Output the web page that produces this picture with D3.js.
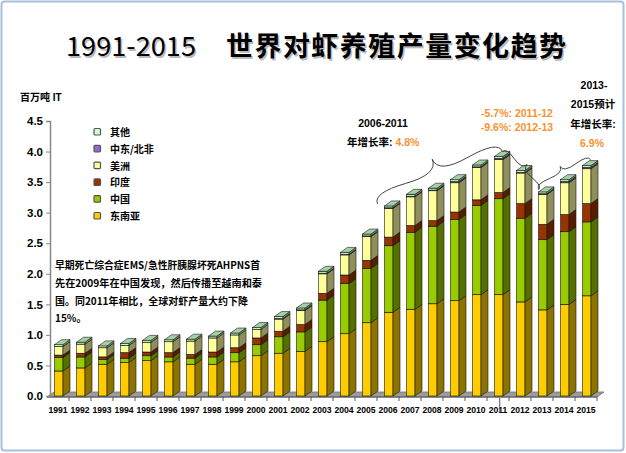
<!DOCTYPE html>
<html><head><meta charset="utf-8">
<script src="https://cdn.jsdelivr.net/npm/d3@7"></script>
<style>
body{margin:0;background:#fff}
svg{display:block}
text{font-family:"Liberation Sans","Noto Sans CJK SC",Arial,sans-serif;font-weight:bold}
</style>
</head><body>
<svg id="c" width="626" height="453"></svg>
<script>
// ---------- data ----------
const years = ["1991","1992","1993","1994","1995","1996","1997","1998","1999","2000","2001","2002","2003","2004","2005","2006","2007","2008","2009","2010","2011","2012","2013","2014","2015"];
const southeastAsia = [0.41,0.46,0.52,0.55,0.58,0.56,0.52,0.52,0.56,0.66,0.70,0.73,0.89,1.02,1.20,1.37,1.42,1.51,1.56,1.66,1.66,1.54,1.41,1.50,1.64];
const china         = [0.22,0.18,0.08,0.07,0.08,0.08,0.10,0.12,0.15,0.18,0.27,0.32,0.68,0.82,0.89,1.09,1.26,1.27,1.33,1.46,1.57,1.37,1.15,1.19,1.21];
const india         = [0.04,0.06,0.04,0.09,0.06,0.07,0.06,0.08,0.08,0.11,0.09,0.12,0.11,0.14,0.13,0.14,0.11,0.09,0.12,0.09,0.10,0.24,0.25,0.28,0.30];
const americas      = [0.14,0.15,0.15,0.12,0.16,0.18,0.22,0.23,0.21,0.14,0.20,0.23,0.32,0.33,0.39,0.47,0.47,0.49,0.48,0.53,0.54,0.50,0.49,0.52,0.57];
const menaf         = [0.00,0.00,0.00,0.00,0.00,0.00,0.00,0.00,0.00,0.00,0.01,0.01,0.01,0.01,0.01,0.01,0.01,0.01,0.02,0.01,0.02,0.01,0.01,0.02,0.02];
const others        = [0.03,0.03,0.03,0.03,0.03,0.03,0.03,0.03,0.03,0.03,0.03,0.03,0.03,0.03,0.03,0.03,0.03,0.03,0.03,0.03,0.03,0.03,0.03,0.03,0.03];
const seriesKeys   = ["sea","china","india","americas","mena","other"];
const seriesNames  = ["东南亚","中国","印度","美洲","中东/北非","其他"];
const yTicks = [0,0.5,1,1.5,2,2.5,3,3.5,4,4.5];

const titleYears = "1991-2015";
const titleText = "世界对虾养殖产量变化趋势";
const unitLabel = "百万吨 IT";
const noteLines = ["早期死亡综合症EMS/急性肝胰腺坏死AHPNS首","先在2009年在中国发现，然后传播至越南和泰","国。同2011年相比，全球对虾产量大约下降","15%。"];

// ---------- styles ----------
const colors = {
  sea:     {front:"#FFCC00", side:"#8C7300", top:"#E6B800"},
  china:   {front:"#99CC00", side:"#557000", top:"#88B800"},
  india:   {front:"#993300", side:"#571D00", top:"#7F2A00"},
  americas:{front:"#FFFF99", side:"#8F8F5C", top:"#E6E68A"},
  mena:    {front:"#9966CC", side:"#5C3D7A", top:"#8A5CB8"},
  other:   {front:"#CCFFCC", side:"#7A997A", top:"#A3D1A3"}
};
const ORANGE = "#F7922F";

const svg = d3.select("#c");
svg.append("rect").attr("x",1.5).attr("y",1.5).attr("width",622).attr("height",449).attr("rx",3)
  .attr("fill","#fff").attr("stroke","#A7C0DE").attr("stroke-width",2);

// ---------- title ----------
const tg = svg.append("g");
[[1.5,"#bbb"],[0,"#000"]].forEach(([o,c])=>{
  tg.append("text").attr("x",66+o).attr("y",56+o).attr("font-size",27).attr("fill",c)
    .attr("textLength",130).attr("lengthAdjust","spacingAndGlyphs")
    .style("font-family","'Noto Sans CJK SC'").style("font-weight","normal").text(titleYears);
  tg.append("text").attr("x",226+o).attr("y",56+o).attr("font-size",27).attr("fill",c)
    .attr("textLength",340).attr("lengthAdjust","spacing")
    .style("font-family","'Noto Sans CJK SC'").style("font-weight","bold").text(titleText);
});

// ---------- scales ----------
const x = d3.scaleBand().domain(years).range([47,597]);
const y = d3.scaleLinear().domain([0,4.5]).range([396,121]);
const DX = 7, DY = -5, FOFF = 7.5, FW = 8.5;

// floor
const f0 = y(0)+1;
svg.append("polygon")
  .attr("points",[[x.range()[0],f0],[x.range()[1],f0],[x.range()[1]+DX,f0+DY],[x.range()[0]+DX,f0+DY]].map(p=>p.join(",")).join(" "))
  .attr("fill","#9C9C9C").attr("stroke","#6E6E6E").attr("stroke-width",0.8);

// x axis line + ticks
const xa = svg.append("g");
xa.append("line").attr("x1",x.range()[0]).attr("x2",x.range()[1]).attr("y1",f0).attr("y2",f0).attr("stroke","#555").attr("stroke-width",1);
years.forEach(yr=>{
  const bx = x(yr)+x.bandwidth();
  xa.append("line").attr("x1",bx).attr("x2",bx).attr("y1",f0).attr("y2",f0+4).attr("stroke","#555");
});
xa.selectAll("text.yr").data(years).join("text").attr("class","yr")
  .attr("x",d=>x(d)+x.bandwidth()/2).attr("y",f0+16).attr("text-anchor","middle")
  .attr("font-size",8.6).attr("fill","#000").text(d=>d);

// y axis
const yAxis = d3.axisLeft(y).tickValues(yTicks).tickFormat(d3.format(".1f")).tickSize(4).tickPadding(3);
const ya = svg.append("g").attr("transform","translate(50,0)").call(yAxis);
ya.select(".domain").attr("stroke","#888").attr("stroke-width",1.5);
ya.selectAll(".tick line").attr("stroke","#888");
ya.selectAll(".tick text").attr("font-size",11.5).attr("fill","#000")
  .style("font-family","'Liberation Sans',Arial").style("font-weight","bold");
svg.append("text").attr("x",20).attr("y",101).attr("font-size",10).attr("fill","#000").text(unitLabel);

// ---------- bars ----------
const rows = years.map((yr,i)=>({year:yr, sea:southeastAsia[i], china:china[i], india:india[i], americas:americas[i], mena:menaf[i], other:others[i]}));
const stack = d3.stack().keys(seriesKeys)(rows);
const bars = svg.append("g");
rows.forEach((r,i)=>{
  const g = bars.append("g");
  const x0 = x(r.year)+FOFF, x1 = x0+FW;
  stack.forEach(s=>{
    const d = s[i];
    if (d[1]-d[0] <= 0) return;
    const yb = y(d[0]), yt = y(d[1]);
    const c = colors[s.key];
    g.append("rect").attr("x",x0).attr("y",yt).attr("width",FW).attr("height",yb-yt)
      .attr("fill",c.front).attr("stroke","#1a1a1a").attr("stroke-width",0.6);
    g.append("polygon").attr("points",[[x1,yb],[x1+DX,yb+DY],[x1+DX,yt+DY],[x1,yt]].map(p=>p.join(",")).join(" "))
      .attr("fill",c.side).attr("stroke","#1a1a1a").attr("stroke-width",0.6);
    g.append("polygon").attr("points",[[x0,yt],[x1,yt],[x1+DX,yt+DY],[x0+DX,yt+DY]].map(p=>p.join(",")).join(" "))
      .attr("fill",c.top).attr("stroke","#1a1a1a").attr("stroke-width",0.6);
  });
});

// ---------- legend ----------
const lg = svg.append("g");
const legendOrder = [5,4,3,2,1,0];
legendOrder.forEach((k,j)=>{
  const cy = 132 + j*16.8;
  lg.append("rect").attr("x",94).attr("y",cy-3.5).attr("width",6.5).attr("height",6.5).attr("rx",1)
    .attr("fill",colors[seriesKeys[k]].front).attr("stroke","#555").attr("stroke-width",1.2);
  lg.append("text").attr("x",110).attr("y",cy+4).attr("font-size",10).attr("fill","#000")
    .style("font-family","'Noto Sans CJK SC'").text(seriesNames[k]);
});

// ---------- note ----------
const nw = [205,207,193,null];
noteLines.forEach((t,i)=>{
  const tx = svg.append("text").attr("x",55).attr("y",269+i*17.8).attr("font-size",10).attr("fill","#000")
    .style("font-family","'Noto Sans CJK SC'").text(t);
  if (nw[i]) tx.attr("textLength",nw[i]).attr("lengthAdjust","spacingAndGlyphs");
});

// ---------- growth annotations ----------
const ann = svg.append("g").attr("font-size",10.5).style("font-family","'Liberation Sans','Noto Sans CJK SC'");
ann.append("text").attr("x",383).attr("y",127).attr("text-anchor","middle").attr("fill","#000").text("2006-2011");
const t2 = ann.append("text").attr("x",347).attr("y",146).attr("fill","#000");
t2.append("tspan").text("年增长率: ");
t2.append("tspan").attr("fill",ORANGE).text("4.8%");
ann.append("text").attr("x",517).attr("y",116.5).attr("text-anchor","middle").attr("fill",ORANGE).text("-5.7%: 2011-12");
ann.append("text").attr("x",517).attr("y",130.5).attr("text-anchor","middle").attr("fill",ORANGE).text("-9.6%: 2012-13");
ann.append("text").attr("x",594).attr("y",89).attr("text-anchor","middle").attr("fill","#000").text("2013-");
ann.append("text").attr("x",593).attr("y",108).attr("text-anchor","middle").attr("fill","#000").text("2015预计");
ann.append("text").attr("x",593).attr("y",127.5).attr("text-anchor","middle").attr("fill","#000").text("年增长率:");
ann.append("text").attr("x",592).attr("y",147).attr("text-anchor","middle").attr("fill",ORANGE).text("6.9%");

// ---------- braces ----------
function brace(x1,y1,x2,y2,w,q){
  let dx=x1-x2, dy=y1-y2; const len=Math.hypot(dx,dy); dx/=len; dy/=len;
  const qx1=x1+q*w*dy, qy1=y1-q*w*dx;
  const qx2=(x1-.25*len*dx)+(1-q)*w*dy, qy2=(y1-.25*len*dy)-(1-q)*w*dx;
  const tx1=(x1-.5*len*dx)+w*dy, ty1=(y1-.5*len*dy)-w*dx;
  const qx3=x2+q*w*dy, qy3=y2-q*w*dx;
  const qx4=(x1-.75*len*dx)+(1-q)*w*dy, qy4=(y1-.75*len*dy)-(1-q)*w*dx;
  return `M${x1},${y1}Q${qx1},${qy1} ${qx2},${qy2}T${tx1},${ty1}M${x2},${y2}Q${qx3},${qy3} ${qx4},${qy4}T${tx1},${ty1}`;
}
const total = i => southeastAsia[i]+china[i]+india[i]+americas[i]+menaf[i]+others[i];
const idx = yr => years.indexOf(yr);
const topPt = (yr,ox,oy) => [x(yr)+FOFF+ox, y(total(idx(yr)))+oy];
const bg = svg.append("g").attr("fill","none").attr("stroke","#444").attr("stroke-width",1);
let a = topPt("2006",-7,-2), b = topPt("2011",8,-5);
bg.append("path").attr("d",brace(a[0],a[1],b[0],b[1],-20,0.6));
a = topPt("2011",8,-5); b = topPt("2013",0,-2);
bg.append("path").attr("d",brace(a[0],a[1],b[0],b[1],-9,0.6));
a = topPt("2013",0,-3); b = topPt("2015",8,-6);
bg.append("path").attr("d",brace(a[0],a[1],b[0],b[1],-9,0.6));
const lx = x("2011")+FOFF+FW/2+1;
bg.append("line").attr("x1",lx).attr("x2",lx).attr("y1",f0+1).attr("y2",f0+16).attr("stroke","#555");
</script>
</body></html>
